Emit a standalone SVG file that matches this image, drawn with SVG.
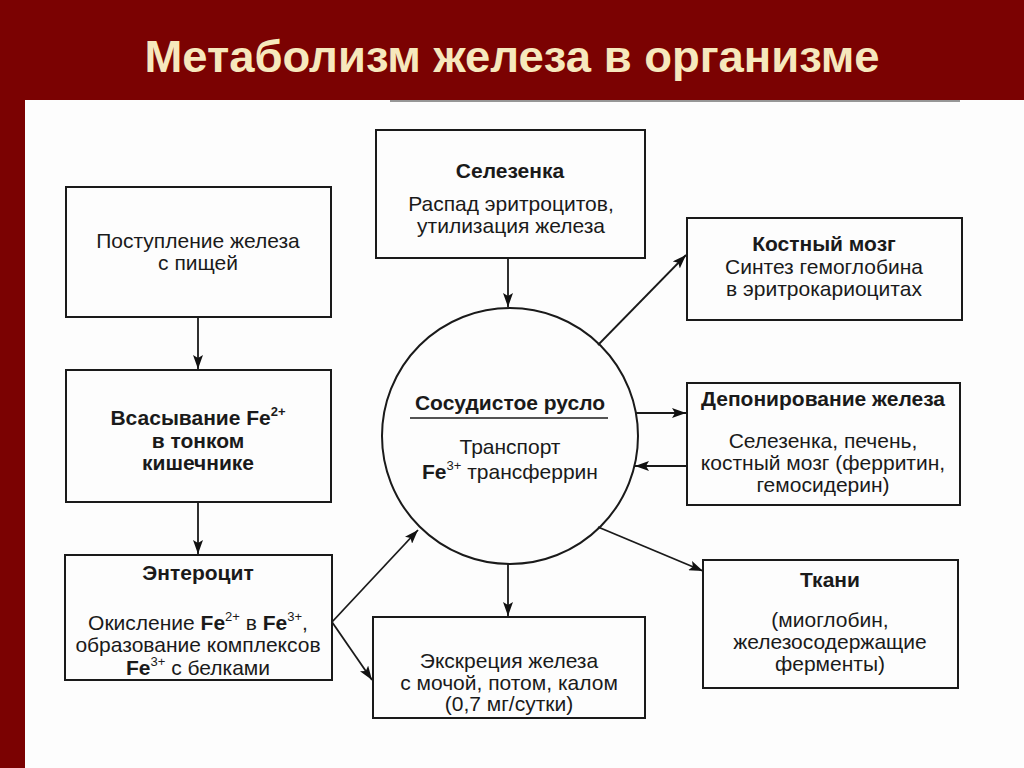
<svg xmlns="http://www.w3.org/2000/svg" width="1024" height="768" viewBox="0 0 1024 768">
<defs>
<marker id="ah" markerUnits="userSpaceOnUse" markerWidth="14" markerHeight="10" viewBox="0 0 14 10" refX="14" refY="5" orient="auto">
<path d="M0,0 L14,5 L0,10 L3,5 Z" fill="#111"/>
</marker>
<style>
.box{fill:none;stroke:#1a1a1a;stroke-width:2}
.t{font-family:"Liberation Sans",Arial,sans-serif;font-size:21px;fill:#1a1a1a;text-anchor:middle}
.b{font-weight:bold}
.c{stroke:#1a1a1a;stroke-width:1.8;fill:none;marker-end:url(#ah)}
.sup{font-size:13px}
</style>
</defs>
<rect x="0" y="0" width="1024" height="768" fill="#7b0202"/>
<rect x="25" y="100" width="999" height="668" fill="#fdfdfd"/>
<line x1="390" y1="101" x2="960" y2="101" stroke="#555" stroke-width="2" opacity="0.6"/>
<text x="512" y="72" font-family="'Comic Sans MS','Liberation Sans',sans-serif" font-weight="bold" font-size="44" fill="#f6e8bd" text-anchor="middle" textLength="735" lengthAdjust="spacingAndGlyphs">Метаболизм железа в организме</text>

<g id="connectors">
<line class="c" x1="198" y1="317" x2="198" y2="369"/>
<line class="c" x1="198" y1="502" x2="198" y2="554"/>
<line class="c" x1="508" y1="258" x2="508" y2="307"/>
<line class="c" x1="598" y1="345" x2="686" y2="255"/>
<line class="c" x1="636" y1="413" x2="686" y2="413"/>
<line class="c" x1="687" y1="466" x2="635" y2="466"/>
<line class="c" x1="598" y1="527" x2="703" y2="571"/>
<line class="c" x1="508" y1="564" x2="508" y2="616"/>
<line class="c" x1="332" y1="622" x2="418" y2="530"/>
<line class="c" x1="332" y1="622" x2="372" y2="680"/>
</g>

<g id="selezenka">
<rect class="box" x="376" y="130" width="269" height="128"/>
<text class="t b" x="510" y="178">Селезенка</text>
<text class="t" x="511" y="211">Распад эритроцитов,</text>
<text class="t" x="511" y="233">утилизация железа</text>
</g>

<g id="postuplenie">
<rect class="box" x="66" y="187" width="265" height="130"/>
<text class="t" x="198" y="248">Поступление железа</text>
<text class="t" x="198" y="270">с  пищей</text>
</g>

<g id="kostny">
<rect class="box" x="687" y="218" width="275" height="102"/>
<text class="t b" x="824" y="251">Костный мозг</text>
<text class="t" x="824" y="274">Синтез гемоглобина</text>
<text class="t" x="824" y="296">в эритрокариоцитах</text>
</g>

<g id="vsasyvanie">
<rect class="box" x="66" y="370" width="265" height="132"/>
<text class="t b" x="198" y="425">Всасывание Fe<tspan class="sup" dy="-9">2+</tspan></text>
<text class="t b" x="198" y="448">в тонком</text>
<text class="t b" x="198" y="470">кишечнике</text>
</g>

<g id="sosud">
<circle cx="510" cy="436" r="128" fill="none" stroke="#1a1a1a" stroke-width="2"/>
<text class="t b" x="510" y="410">Сосудистое русло</text>
<line x1="410" y1="418" x2="608" y2="418" stroke="#1a1a1a" stroke-width="1.5"/>
<text class="t" x="510" y="454">Транспорт</text>
<text class="t" x="510" y="479"><tspan class="b">Fe</tspan><tspan class="sup" dy="-9">3+</tspan><tspan dy="9"> трансферрин</tspan></text>
</g>

<g id="deponirovanie">
<rect class="box" x="687" y="383" width="273" height="122"/>
<text class="t b" x="823" y="406">Депонирование железа</text>
<text class="t" x="823" y="448">Селезенка, печень,</text>
<text class="t" x="823" y="470">костный мозг (ферритин,</text>
<text class="t" x="823" y="492">гемосидерин)</text>
</g>

<g id="enterocit">
<rect class="box" x="65" y="555" width="267" height="125"/>
<text class="t b" x="198" y="580">Энтероцит</text>
<text class="t" x="198" y="630">Окисление <tspan class="b">Fe</tspan><tspan class="sup" dy="-9">2+</tspan><tspan dy="9"> в </tspan><tspan class="b">Fe</tspan><tspan class="sup" dy="-9">3+</tspan><tspan dy="9">,</tspan></text>
<text class="t" x="198" y="652">образование комплексов</text>
<text class="t" x="198" y="675"><tspan class="b">Fe</tspan><tspan class="sup" dy="-9">3+</tspan><tspan dy="9"> с белками</tspan></text>
</g>

<g id="ekskreciya">
<rect class="box" x="373" y="617" width="272" height="101"/>
<text class="t" x="509" y="668">Экскреция железа</text>
<text class="t" x="509" y="690">с  мочой, потом, калом</text>
<text class="t" x="509" y="711">(0,7 мг/сутки)</text>
</g>

<g id="tkani">
<rect class="box" x="703" y="560" width="255" height="128"/>
<text class="t b" x="830" y="587">Ткани</text>
<text class="t" x="830" y="627">(миоглобин,</text>
<text class="t" x="830" y="649">железосодержащие</text>
<text class="t" x="830" y="671">ферменты)</text>
</g>
</svg>
